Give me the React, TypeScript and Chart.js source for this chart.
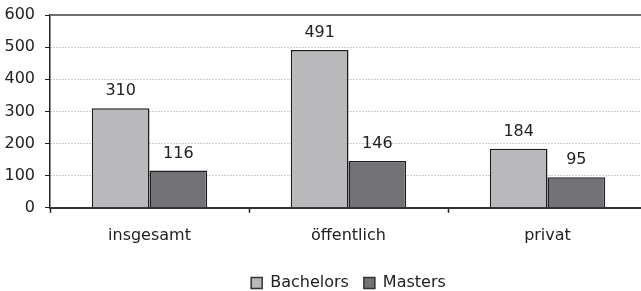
import { useEffect, useRef } from "react";
import { Chart, registerables } from "chart.js";

Chart.register(...registerables);

const categories = ["insgesamt", "öffentlich", "privat"];
const bachelors = [310, 491, 184];
const masters = [116, 146, 95];
const seriesNames = ["Bachelors", "Masters"];
const yMin = 0;
const yMax = 600;
const yStep = 100;

const FONT = "'DejaVu Sans', sans-serif";
const TEXT = "#222222";

const valueLabels = {
  id: "valueLabels",
  afterDatasetsDraw(chart: any) {
    const ctx = chart.ctx;
    ctx.save();
    ctx.font = `16px ${FONT}`;
    ctx.fillStyle = TEXT;
    ctx.textAlign = "center";
    ctx.textBaseline = "alphabetic";
    chart.data.datasets.forEach((ds: any, i: number) => {
      const meta = chart.getDatasetMeta(i);
      meta.data.forEach((el: any, j: number) => {
        ctx.fillText(String(ds.data[j]), el.x, el.y - 13);
      });
    });
    ctx.restore();
  },
};

const topLine = {
  id: "topLine",
  beforeDatasetsDraw(chart: any) {
    const { ctx, chartArea } = chart;
    ctx.save();
    ctx.strokeStyle = "#707070";
    ctx.lineWidth = 2;
    ctx.beginPath();
    ctx.moveTo(chartArea.left, chartArea.top);
    ctx.lineTo(chartArea.right, chartArea.top);
    ctx.stroke();
    ctx.restore();
  },
};

export default function App() {
  const ref = useRef<HTMLCanvasElement>(null);
  useEffect(() => {
    const chart = new Chart(ref.current!, {
      type: "bar",
      data: {
        labels: categories,
        datasets: [
          {
            label: seriesNames[0],
            data: bachelors,
            backgroundColor: "#b9b9bc",
            borderColor: "#1e1e1e",
            borderWidth: 1.5,
            categoryPercentage: 0.58,
            barPercentage: 1,
          },
          {
            label: seriesNames[1],
            data: masters,
            backgroundColor: "#737276",
            borderColor: "#1e1e1e",
            borderWidth: 1.5,
            categoryPercentage: 0.58,
            barPercentage: 1,
          },
        ],
      },
      options: {
        responsive: false,
        animation: false,
        devicePixelRatio: 1,
        layout: { padding: { left: 0, right: 1, top: 15, bottom: 0 } },
        plugins: {
          tooltip: { enabled: false },
          legend: {
            position: "bottom",
            fullSize: false,
            labels: {
              color: TEXT,
              font: { family: FONT, size: 16 },
              boxWidth: 11,
              boxHeight: 11,
              padding: 15,
              generateLabels: (chart: any) =>
                chart.data.datasets.map((ds: any, i: number) => ({
                  text: ds.label,
                  fillStyle: ds.backgroundColor,
                  strokeStyle: "#333333",
                  lineWidth: 1.5,
                  datasetIndex: i,
                  fontColor: TEXT,
                })),
            },
          },
        },
        scales: {
          x: {
            afterFit: (s: any) => {
              s.height += 2;
            },
            grid: {
              offset: true,
              drawOnChartArea: false,
              tickLength: 5,
              color: "#222222",
              tickWidth: 1.5,
            },
            border: { color: "#333333", width: 2 },
            ticks: {
              color: TEXT,
              font: { family: FONT, size: 16 },
              padding: 13,
            },
          },
          y: {
            min: yMin,
            max: yMax,
            afterFit: (s: any) => {
              s.width = 50;
              s.paddingTop = 0;
              s.paddingBottom = 0;
            },
            ticks: {
              stepSize: yStep,
              color: TEXT,
              font: { family: FONT, size: 16 },
              padding: 10,
            },
            grid: {
              color: "#9a9a9a",
              lineWidth: 1,
              tickLength: 5,
              tickColor: "#222222",
              tickBorderDash: [],
            },
            border: { color: "#222222", width: 1.5, dash: [1, 2] },
          },
        },
      },
      plugins: [topLine, valueLabels],
    });
    return () => chart.destroy();
  }, []);
  return (
    <div style={{ position: "absolute", left: 0, top: 0, width: 641, height: 291, overflow: "hidden", background: "#fff" }}>
      <canvas ref={ref} width={648} height={301} style={{ display: "block" }} />
    </div>
  );
}
